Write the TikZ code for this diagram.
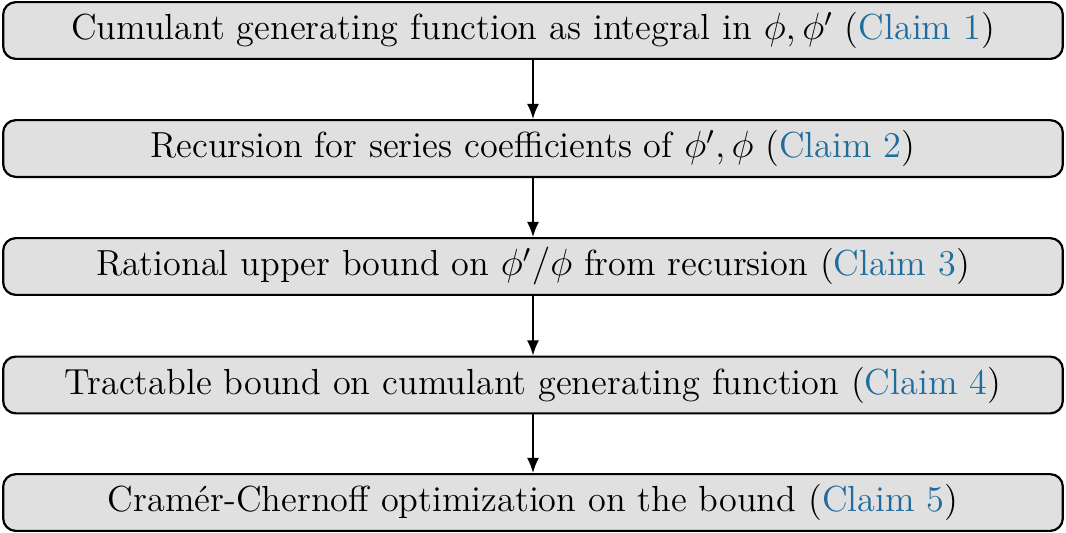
\documentclass[tikz,border=0pt]{standalone}
\usetikzlibrary{arrows.meta}
\definecolor{claimblue}{HTML}{1F6C9E}
\definecolor{boxfill}{HTML}{E0E0E0}
\tikzset{
  stepbox/.style={draw=black, fill=boxfill, rounded corners=4pt, line width=0.7pt,
    minimum width=336pt, minimum height=18pt, inner sep=0pt, align=center,
    font=\fontsize{11.5pt}{13.8pt}\selectfont},
  flow/.style={-{Latex[length=4.8pt,width=3.8pt]}, line width=0.5pt}
}
\newcommand{\clm}[1]{(\textcolor{claimblue}{Claim #1})}
\begin{document}
\begin{tikzpicture}[x=1pt,y=1pt]
\useasboundingbox (0,0) rectangle (338,-169);
\node[stepbox] (c1) at (169,-9.67) {Cumulant generating function as integral in $\phi,\phi'$ \clm{1}};
\node[stepbox] (c2) at (169,-47.09) {Recursion for series coefficients of $\phi',\phi$ \clm{2}};
\node[stepbox] (c3) at (169,-84.5) {Rational upper bound on $\phi'/\phi$ from recursion \clm{3}};
\node[stepbox] (c4) at (169,-122.07) {Tractable bound on cumulant generating function \clm{4}};
\node[stepbox] (c5) at (169,-159.33) {Cram\'er-Chernoff optimization on the bound \clm{5}};
\draw[flow] (c1) -- (c2);
\draw[flow] (c2) -- (c3);
\draw[flow] (c3) -- (c4);
\draw[flow] (c4) -- (c5);
\end{tikzpicture}
\end{document}
